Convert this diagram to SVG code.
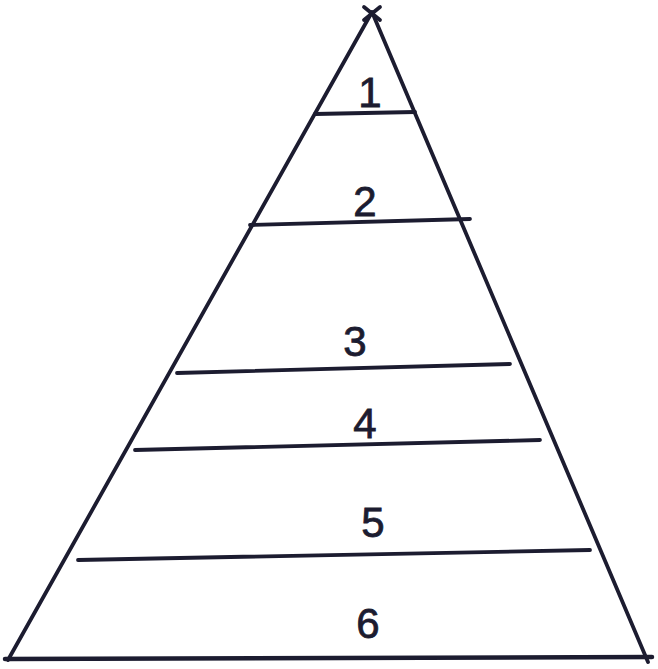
<svg xmlns="http://www.w3.org/2000/svg" width="658" height="669" viewBox="0 0 658 669">
<style>
.ln{stroke:#1c1c30;stroke-width:3.8;fill:none;stroke-linecap:round;stroke-linejoin:round}
.lb{font-family:"Liberation Sans",Arial,sans-serif;font-size:42px;fill:#1c1c30;stroke:#1c1c30;stroke-width:0.8;text-anchor:middle}
</style>
<rect width="658" height="669" fill="#ffffff"/>
<g id="connectors">
<path class="ln" d="M8 660 L372 12 L648 662"/>
<path class="ln" d="M364 7 L380 20 M380 7 L364 20"/>
<path class="ln" d="M315 114 L415 112"/>
<path class="ln" d="M250 225 L470 219"/>
<path class="ln" d="M177 373 L510 364"/>
<path class="ln" d="M135 450 L540 440"/>
<path class="ln" d="M78 560 L590 550"/>
<path class="ln" d="M5 659 L652 657" style="stroke-width:4.5"/>
</g>
<g id="n1"><text class="lb" x="370" y="107">1</text></g>
<g id="n2"><text class="lb" x="365" y="216">2</text></g>
<g id="n3"><text class="lb" x="355" y="356">3</text></g>
<g id="n4"><text class="lb" x="365" y="438">4</text></g>
<g id="n5"><text class="lb" x="373" y="537">5</text></g>
<g id="n6"><text class="lb" x="368" y="638">6</text></g>
</svg>
